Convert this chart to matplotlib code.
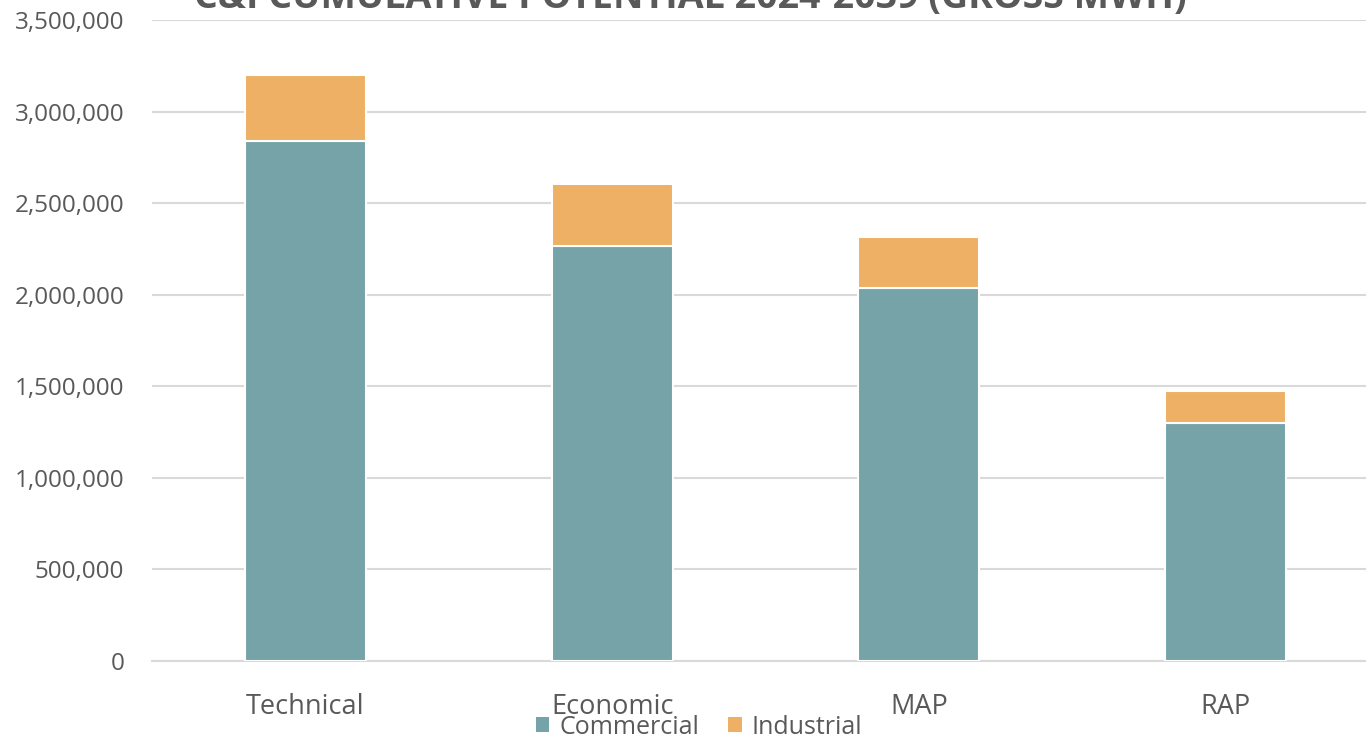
import matplotlib
matplotlib.use("Agg")
import matplotlib.pyplot as plt
from matplotlib.ticker import FuncFormatter
from matplotlib.patches import Patch

plt.rcParams['font.family'] = ['Open Sans', 'DejaVu Sans']

categories = ["Technical", "Economic", "MAP", "RAP"]
commercial = [2839000, 2266000, 2037000, 1300000]
industrial = [361000, 339000, 278000, 175000]
title = "C&I CUMULATIVE POTENTIAL 2024-2039 (GROSS MWH)"

teal = "#76A3A8"
orange = "#EEB064"
text_gray = "#595959"
grid_gray = "#D9D9D9"

W, H = 1366, 742
fig = plt.figure(figsize=(W / 100, H / 100), dpi=100)
left, right = 152 / W, 1379 / W
bottom, top = 1 - 661 / H, 1 - 20 / H
ax = fig.add_axes([left, bottom, right - left, top - bottom])

x = list(range(len(categories)))
width = 0.395
ax.bar(x, commercial, width, color=teal, edgecolor="white", linewidth=1.5,
       label="Commercial", zorder=3)
ax.bar(x, industrial, width, bottom=commercial, color=orange, edgecolor="white",
       linewidth=1.5, label="Industrial", zorder=3)

ax.set_xlim(-0.5, 3.5)
ax.set_ylim(0, 3500000)
ax.set_yticks(range(0, 3500001, 500000))
ax.yaxis.set_major_formatter(FuncFormatter(lambda v, p: f"{int(v):,}"))
ax.grid(axis="y", color=grid_gray, linewidth=1.5, zorder=0)
ax.set_axisbelow(True)
for s in ["top", "right", "left"]:
    ax.spines[s].set_visible(False)
ax.spines["bottom"].set_color(grid_gray)
ax.spines["bottom"].set_linewidth(1.5)
ax.tick_params(axis="y", length=0, pad=20, labelsize=17.5, labelcolor=text_gray)
ax.tick_params(axis="x", length=0, pad=23, labelsize=19.5, labelcolor=text_gray)
ax.set_xticks(x)
ax.set_xticklabels(categories)

fig.text(690 / W, 1 - 8 / H, title, ha="center", va="baseline", fontsize=27,
         fontweight="bold", color=text_gray)

handles = [Patch(facecolor=teal, label="Commercial"),
           Patch(facecolor=orange, label="Industrial")]
fig.legend(handles=handles, loc="center", bbox_to_anchor=(699 / W, 1 - 727 / H),
           ncol=2, frameon=False, fontsize=18, labelcolor=text_gray,
           handlelength=0.55, handleheight=0.55, handletextpad=0.4,
           columnspacing=1.15, borderpad=0)

fig.savefig("out.png", dpi=100)
